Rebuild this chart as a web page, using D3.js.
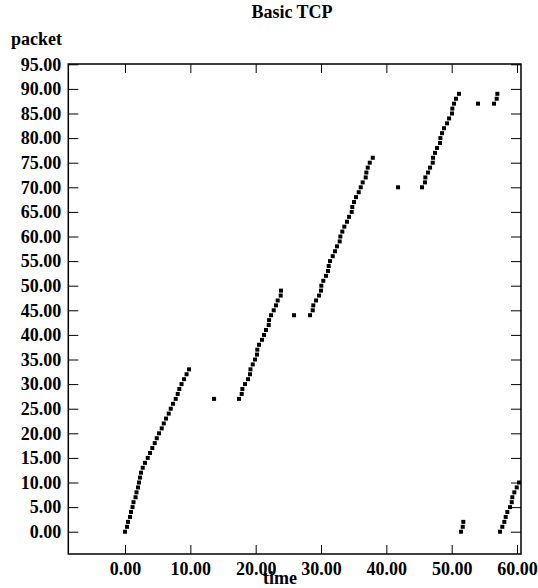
<!DOCTYPE html>
<html>
<head>
<meta charset="utf-8">
<script src="https://cdn.jsdelivr.net/npm/d3@7"></script>
<style>
html,body{margin:0;padding:0;background:#fff;}
svg text{font-family:"Liberation Serif","Times New Roman",serif;font-weight:bold;fill:#000;}
</style>
</head>
<body>
<svg id="chart" width="538" height="588"></svg>
<script>
const title = "Basic TCP";
const xLabel = "time";
const yLabel = "packet";
const xTicks = [0, 10, 20, 30, 40, 50, 60];
const yTicks = [0,5,10,15,20,25,30,35,40,45,50,55,60,65,70,75,80,85,90,95];
const times = [
  0.00,0.31,0.46,0.77,0.92,1.15,1.30,1.61,1.76,1.99,2.14,2.30,2.45,2.71,3.06,3.48,3.83,4.18,4.55,4.86,5.21,5.62,5.93,6.28,6.69,7.00,7.35,7.76,8.07,8.31,8.65,9.04,9.42,9.80,
  13.63,
  17.45,17.86,17.96,18.37,18.83,19.13,19.20,19.55,19.90,20.20,20.25,20.51,20.97,21.28,21.58,22.00,22.05,22.35,22.76,23.11,23.37,23.83,23.88,
  25.87,
  28.32,28.73,28.82,29.24,29.70,30.00,30.05,30.35,30.77,31.07,31.18,31.38,31.79,32.14,32.45,32.86,32.96,33.26,33.57,33.98,34.29,34.70,34.79,35.05,35.36,35.77,36.08,36.38,36.84,36.94,37.15,37.46,37.92,
  41.79,
  45.46,45.92,45.97,46.38,46.69,47.10,47.15,47.45,47.76,48.22,48.27,48.52,48.83,49.29,49.60,50.05,50.10,50.36,50.66,51.12,
  51.43,51.69,51.78,
  54.03,
  56.48,56.89,56.99,
  57.40,57.75,58.06,58.27,58.52,58.93,59.19,59.28,59.59,59.96,60.31
];
const packets = [
  0,1,2,3,4,5,6,7,8,9,10,11,12,13,14,15,16,17,18,19,20,21,22,23,24,25,26,27,28,29,30,31,32,33,
  27,
  27,28,29,30,31,32,33,34,35,36,37,38,39,40,41,42,43,44,45,46,47,48,49,
  44,
  44,45,46,47,48,49,50,51,52,53,54,55,56,57,58,59,60,61,62,63,64,65,66,67,68,69,70,71,72,73,74,75,76,
  70,
  70,71,72,73,74,75,76,77,78,79,80,81,82,83,84,85,86,87,88,89,
  0,1,2,
  87,
  87,88,89,
  0,1,2,3,4,5,6,7,8,9,10
];

const svg = d3.select("#chart");
const L = 68.3, R = 521, T = 64, B = 554;
const x = d3.scaleLinear().domain([-8.68, 60.61]).range([L, R]);
const y = d3.scaleLinear().domain([-4.53, 95.06]).range([B, T]);

// frame
svg.append("rect").attr("x", L).attr("y", T).attr("width", R - L).attr("height", B - T)
  .attr("fill", "none").attr("stroke", "#000").attr("stroke-width", 1.5);

// axes with inward ticks
const fmt = d => d.toFixed(2);
svg.append("g").attr("transform", `translate(0,${B})`)
  .call(d3.axisBottom(x).tickValues(xTicks).tickSize(-9).tickPadding(8).tickFormat(fmt))
  .call(g => g.select(".domain").remove());
svg.append("g").attr("transform", `translate(0,${T})`)
  .call(d3.axisTop(x).tickValues(xTicks).tickSize(-9).tickFormat(""))
  .call(g => g.select(".domain").remove());
svg.append("g").attr("transform", `translate(${L},0)`)
  .call(d3.axisLeft(y).tickValues(yTicks).tickSize(-10).tickPadding(7).tickFormat(fmt))
  .call(g => g.select(".domain").remove());
svg.append("g").attr("transform", `translate(${R},0)`)
  .call(d3.axisRight(y).tickValues(yTicks).tickSize(-10).tickFormat(""))
  .call(g => g.select(".domain").remove());

svg.selectAll(".tick line").attr("stroke", "#000").attr("stroke-width", 1);
svg.selectAll(".tick text").style("font-size", "18px")
  .style("font-family", "'Liberation Serif','Times New Roman',serif").style("font-weight", "bold");

// points
const pts = times.map((t, i) => ({t, p: packets[i]}));
svg.append("g").selectAll("rect").data(pts).join("rect")
  .attr("x", d => x(d.t) - 2).attr("y", d => y(d.p) - 2)
  .attr("width", 4).attr("height", 4).attr("fill", "#000");

// titles
svg.append("text").attr("x", 292).attr("y", 18).attr("text-anchor", "middle")
  .style("font-size", "18px").text(title);
svg.append("text").attr("x", 11).attr("y", 45)
  .style("font-size", "18px").text(yLabel);
svg.append("text").attr("x", 280).attr("y", 584).attr("text-anchor", "middle")
  .style("font-size", "18px").text(xLabel);
</script>
</body>
</html>
